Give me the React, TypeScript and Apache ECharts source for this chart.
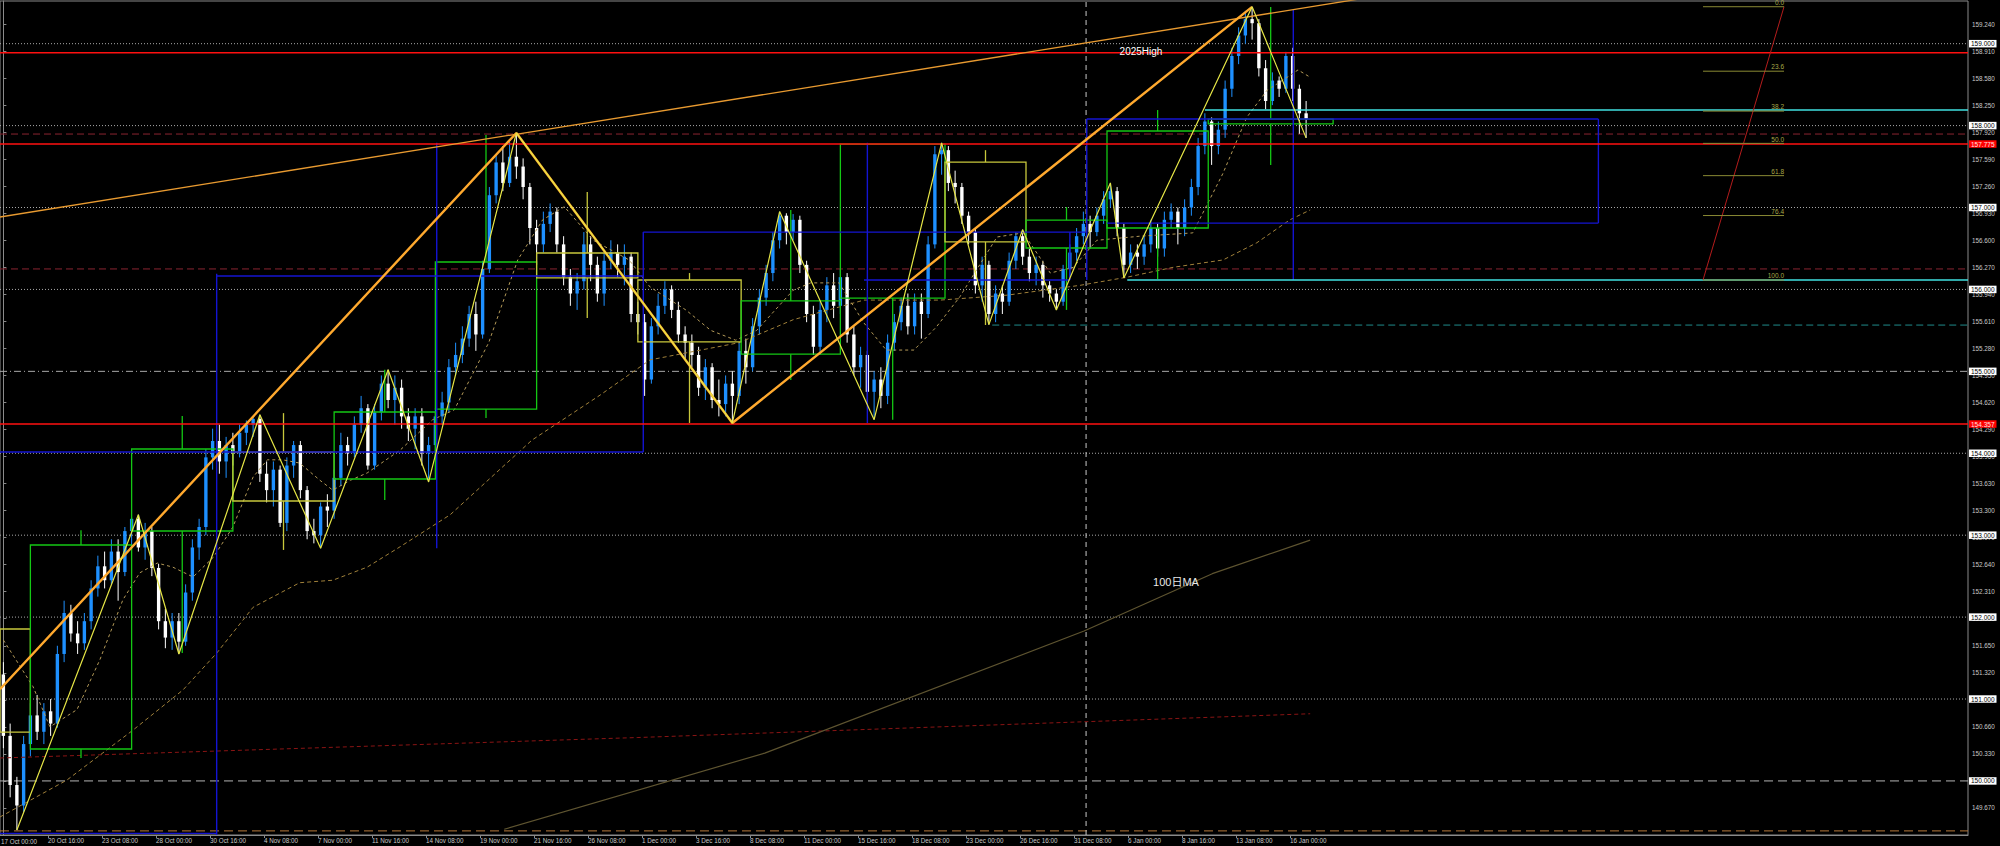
import React, { useEffect, useRef } from "react";
import * as echarts from "echarts";

// ---------- DATA (8-hour candles) ----------
// [open, close, low, high]
const candles: number[][] = [
  [151.30,150.55,150.40,151.45],[150.55,149.95,149.80,150.70],[149.95,149.70,149.40,150.05],[149.70,150.45,149.62,150.55],
  [150.45,150.80,150.30,150.95],[150.80,150.60,150.50,151.05],[150.60,150.85,150.45,150.95],[150.85,150.70,150.55,151.00],
  [150.70,151.55,150.65,151.65],[151.55,152.05,151.45,152.20],[152.05,151.80,151.70,152.15],[151.80,151.68,151.55,151.95],
  [151.68,151.95,151.60,152.05],[151.95,152.35,151.85,152.45],[152.35,152.62,152.25,152.75],[152.62,152.45,152.35,152.80],
  [152.45,152.80,152.40,152.95],[152.80,152.55,152.20,152.95],[152.55,153.05,152.50,153.10],[153.05,153.20,152.85,153.22],
  [153.20,152.85,152.80,153.25],[152.85,153.05,152.70,153.15],[153.05,152.60,152.50,153.10],[152.60,151.95,151.85,152.65],
  [151.95,151.75,151.62,152.10],[151.75,151.95,151.60,152.05],[151.95,151.70,151.55,152.05],[151.70,152.30,151.65,152.40],
  [152.30,152.85,152.20,152.95],[152.85,153.10,152.70,153.20],[153.10,153.95,153.00,154.05],[153.95,154.15,153.80,154.30],
  [154.15,153.90,153.75,154.35],[153.90,154.10,153.70,154.20],[154.10,154.00,153.85,154.25],[154.00,154.25,153.95,154.35],
  [154.25,154.35,154.10,154.40],[154.35,154.42,154.20,154.44],[154.42,153.75,153.65,154.47],[153.75,153.55,153.40,153.90],
  [153.55,153.80,153.35,153.90],[153.80,153.15,153.10,153.85],[153.15,153.85,153.05,153.95],[153.85,154.10,153.70,154.15],
  [154.10,153.55,153.45,154.15],[153.55,153.05,152.95,153.60],[153.05,153.00,152.90,153.20],[153.00,153.35,152.84,153.40],
  [153.35,153.30,153.10,153.50],[153.30,153.70,153.20,153.80],[153.70,154.10,153.60,154.25],[154.10,154.00,153.85,154.20],
  [154.00,154.35,153.95,154.45],[154.35,154.55,154.25,154.70],[154.55,153.85,153.80,154.60],[153.85,154.50,153.80,154.60],
  [154.50,154.85,154.40,154.95],[154.85,154.65,154.55,155.02],[154.65,154.80,154.35,154.95],[154.80,154.45,154.30,154.90],
  [154.45,154.30,154.15,154.55],[154.30,154.45,154.05,154.55],[154.45,154.00,153.85,154.55],[154.00,154.10,153.65,154.20],
  [154.10,154.45,153.95,154.55],[154.45,154.62,154.35,154.75],[154.62,155.05,154.50,155.15],[155.05,155.20,154.95,155.35],
  [155.20,155.40,155.10,155.55],[155.40,155.70,155.30,155.80],[155.70,155.45,155.25,155.85],[155.45,156.25,155.40,156.35],
  [156.25,157.15,156.20,157.25],[157.15,157.55,157.05,157.65],[157.55,157.30,157.20,157.75],[157.30,157.62,157.25,157.80],
  [157.62,157.50,157.35,157.91],[157.50,157.25,157.10,157.60],[157.25,156.75,156.55,157.30],[156.75,156.55,156.30,156.85],
  [156.55,156.80,156.45,156.95],[156.80,156.95,156.70,157.05],[156.95,156.55,156.45,157.00],[156.55,156.15,156.05,156.65],
  [156.15,155.95,155.80,156.25],[155.95,156.10,155.75,156.20],[156.10,156.55,156.00,156.70],[156.55,156.30,156.10,156.65],
  [156.30,155.95,155.85,156.40],[155.95,156.35,155.80,156.45],[156.35,156.45,156.25,156.60],[156.45,156.30,156.15,156.55],
  [156.30,156.40,156.05,156.55],[156.40,155.70,155.60,156.45],[155.70,155.60,155.45,155.85],[155.60,154.90,154.70,155.70],
  [154.90,155.55,154.85,155.65],[155.55,155.80,155.45,155.95],[155.80,156.00,155.70,156.10],[156.00,155.75,155.65,156.05],
  [155.75,155.45,155.35,155.85],[155.45,155.35,155.15,155.55],[155.35,155.20,155.05,155.45],[155.20,154.80,154.70,155.30],
  [154.80,155.05,154.65,155.15],[155.05,154.65,154.55,155.10],[154.65,154.60,154.45,154.90],[154.60,154.85,154.45,154.95],
  [154.85,154.70,154.37,155.00],[154.70,155.25,154.60,155.35],[155.25,155.05,154.85,155.40],[155.05,155.55,155.00,155.65],
  [155.55,155.90,155.45,156.00],[155.90,156.20,155.80,156.30],[156.20,156.60,156.10,156.70],[156.60,156.90,156.50,156.95],
  [156.90,156.70,156.55,156.93],[156.70,156.85,156.60,156.92],[156.85,156.30,156.20,156.90],[156.30,155.70,155.60,156.35],
  [155.70,155.30,155.20,155.80],[155.30,155.75,155.20,155.85],[155.75,156.05,155.60,156.15],[156.05,155.80,155.65,156.20],
  [155.80,156.15,155.70,156.25],[156.15,155.45,155.35,156.20],[155.45,155.05,154.95,155.55],[155.05,155.20,154.80,155.30],
  [155.20,154.75,154.60,155.25],[154.75,154.90,154.41,155.00],[154.90,154.70,154.55,155.05],[154.70,155.35,154.60,155.45],
  [155.35,155.60,155.25,155.70],[155.60,155.80,155.50,155.90],[155.80,155.55,155.45,155.95],[155.55,155.85,155.45,155.95],
  [155.85,155.70,155.40,155.95],[155.70,156.55,155.65,156.65],[156.55,157.65,156.50,157.75],[157.65,157.70,157.40,157.79],
  [157.70,157.30,157.20,157.75],[157.30,157.25,157.05,157.45],[157.25,156.90,156.80,157.30],[156.90,156.70,156.55,156.95],
  [156.70,156.05,155.95,156.75],[156.05,156.30,155.85,156.40],[156.30,155.70,155.57,156.35],[155.70,155.95,155.60,156.05],
  [155.95,155.85,155.70,156.05],[155.85,156.35,155.80,156.45],[156.35,156.65,156.25,156.70],[156.65,156.40,156.30,156.73],
  [156.40,156.20,156.10,156.50],[156.20,156.30,156.05,156.40],[156.30,156.05,155.90,156.35],[156.05,155.95,155.85,156.10],
  [155.95,155.85,155.75,156.00],[155.85,156.25,155.80,156.30],[156.25,156.45,156.15,156.55],[156.45,156.65,156.35,156.75],
  [156.65,156.80,156.55,156.95],[156.80,156.70,156.50,156.90],[156.70,156.90,156.65,157.00],[156.90,157.10,156.80,157.20],
  [157.10,157.20,157.00,157.30],[157.20,156.75,156.65,157.25],[156.75,156.30,156.14,156.80],[156.30,156.45,156.20,156.55],
  [156.45,156.40,156.25,156.55],[156.40,156.55,156.30,156.65],[156.55,156.75,156.45,156.85],[156.75,156.50,156.40,156.80],
  [156.50,156.85,156.40,156.95],[156.85,156.95,156.75,157.05],[156.95,156.75,156.55,157.00],[156.75,157.00,156.65,157.10],
  [157.00,157.25,156.90,157.35],[157.25,157.75,157.15,157.85],[157.75,158.05,157.65,158.15],[158.05,157.75,157.52,158.10],
  [157.75,157.95,157.65,158.05],[157.95,158.45,157.85,158.55],[158.45,158.85,158.35,158.95],[158.85,159.10,158.75,159.20],
  [159.10,159.30,159.00,159.40],[159.30,159.25,159.05,159.45],[159.25,158.70,158.60,159.30],[158.70,158.30,158.20,158.80],
  [158.30,158.55,158.25,158.65],[158.55,158.45,158.35,158.60],[158.45,158.85,158.40,158.90],[158.85,158.45,158.30,158.95],
  [158.45,158.15,157.90,158.50],[158.15,158.08,157.85,158.30],
];

// x-axis tick labels (one per 16 H4 bars = 8 of these 8-hour bars)
const xTickLabels = [
  "17 Oct 00:00","20 Oct 16:00","23 Oct 08:00","28 Oct 00:00","30 Oct 16:00","4 Nov 08:00","7 Nov 00:00",
  "11 Nov 16:00","14 Nov 08:00","19 Nov 00:00","21 Nov 16:00","26 Nov 08:00","1 Dec 00:00","3 Dec 16:00",
  "8 Dec 08:00","11 Dec 00:00","15 Dec 16:00","18 Dec 08:00","23 Dec 00:00","26 Dec 16:00","31 Dec 08:00",
  "6 Jan 00:00","8 Jan 16:00","13 Jan 08:00","16 Jan 00:00",
];
const BARS_PER_LABEL = 8;
const FIRST_LABEL_BAR = -1.39;

// y-axis tick labels
const yTickValues = [
  149.67,150.0,150.33,150.66,150.99,151.32,151.65,151.98,152.31,152.64,152.97,153.3,153.63,153.96,154.29,
  154.62,154.95,155.28,155.61,155.94,156.27,156.6,156.93,157.26,157.59,157.92,158.25,158.58,158.91,159.24,
];

// Moving averages: [bar, price]
const shortMA = [
  [0,151.72],[4.4,151.15],[6.9,150.66],[10.9,150.87],[14.3,151.48],[17.7,152.21],[20.2,152.54],[22.8,152.66],
  [25.1,152.61],[28.1,152.49],[31.1,152.73],[34.0,153.10],[37.0,153.71],[39.1,153.92],[41.4,153.92],[43.9,153.88],
  [46.9,153.67],[48.8,153.55],[51.4,153.67],[53.9,153.76],[58.8,154.04],[63.6,154.41],[66.8,154.53],[71.9,155.35],
  [76.2,156.36],[79.9,156.85],[83.1,157.01],[87.4,156.60],[92.7,156.36],[95.8,156.03],[101.1,155.75],[104.8,155.50],
  [108.5,155.38],[111.6,155.50],[117.0,155.99],[119.6,156.08],[123.8,156.08],[127.5,155.59],[130.8,155.26],
  [134.9,155.26],[138.2,155.54],[141.7,155.91],[147.2,156.64],[151.1,156.69],[155.1,156.20],[158.5,156.27],
  [162.0,156.60],[168.4,156.65],[176.2,156.69],[180.7,157.42],[184.2,158.10],[187.2,158.43],[190.2,158.59],
  [191.8,158.68],[193.6,158.59],
];
const longMA = [
  [-0.5,149.56],[9.4,150.01],[19.2,150.62],[26.6,151.11],[31.6,151.56],[37.0,152.12],[43.9,152.42],[48.8,152.45],
  [53.9,152.61],[58.8,152.86],[66.2,153.25],[78.3,154.16],[88.4,154.71],[95.8,155.14],[109.0,155.35],[117.0,155.63],
  [127.5,155.87],[138.8,155.87],[148.7,155.93],[159.5,156.05],[166.5,156.15],[173.3,156.27],[180.7,156.36],
  [185.7,156.57],[190.6,156.85],[193.6,156.97],
];
const ma100 = [[74.2,149.41],[112.8,150.34],[160.1,151.83],[179.1,152.53],[193.6,152.94]];
const ma200 = [[-0.5,150.28],[94,150.53],[193.6,150.82]];

// ZigZags and trendline: [bar, price]
const zigzagThin = [
  [2,149.40],[20,153.25],[26,151.55],[38,154.47],[47,152.84],[57,155.02],[63,153.65],[76,157.91],[108,154.37],
  [115,156.95],[129,154.41],[139,157.79],[146,155.57],[151,156.73],[156,155.75],[164,157.30],[166,156.14],
  [185,159.45],[193,157.85],
];
const zigzagMajor = [[-0.5,151.12],[76,157.91],[108,154.37],[185,159.45]];
const trendLine = [[-0.5,156.884],[205,159.60]];

// Weekly candle boxes: [startBar, endBar, open, close, high, low]
const weeklyBoxes = [
  [-0.5,4,151.855,150.597,151.855,150.597],
  [4,19,150.39,152.88,153.06,150.28],
  [19,34,153.051,154.052,154.455,151.562],
  [34,49,154.015,153.417,154.49,152.82],
  [49,64,153.686,154.504,155.02,153.43],
  [64,79,154.54,156.335,157.885,154.43],
  [79,94,156.445,156.14,157.19,155.65],
  [94,109.3,156.115,155.36,156.2,154.37],
  [109.3,124,155.21,155.86,156.97,154.895],
  [124,139.5,155.895,157.775,157.775,154.41],
  [139.5,151.5,157.555,156.58,157.70,155.566],
  [151.5,163.5,156.506,156.847,157.006,155.75],
  [163.5,178.5,156.75,157.934,158.19,156.127],
  [178.5,197,158.02,158.08,159.447,157.52],
];

// Range lines (blue): [bar1, price1, bar2, price2]
const blueSegments = [
  [-0.5,154.016,94.8,154.016],[31.6,156.19,31.6,149.34],[31.6,156.164,94.8,156.164],[64.2,157.79,64.2,152.84],
  [94.8,156.70,94.8,154.016],[94.8,156.70,160.5,156.70],[128.0,157.79,128.0,154.37],[160.5,158.08,160.5,156.115],
  [160.5,158.08,236.3,158.08],[163.5,156.81,236.3,156.81],[236.3,158.08,236.3,156.81],[191.1,159.41,191.1,156.115],
  [127.5,156.115,158.0,156.115],[158.0,156.70,158.0,156.115],[-0.5,149.36,31.6,149.36],
];

// Horizontal levels
const cyanLevels = [[178.0,158.19],[166.5,156.115]]; // [startBar, price]
const tealDashedLevels = [[146.5,155.565]];
const maroonDashedLevels = [157.897,156.25];
const redLevels = [158.89,157.775,154.357];
const redTagLevels = [157.775,154.357];
const bottomDashedLevel = [149.39];
const dottedLevels = [151,152,153,154,156,157,158,159];
const dashDotLevels = [155];
const dashedLevels = [150];
const integerTags = [150,151,152,153,154,155,156,157,158,159];
const separatorBars = [160.4];

// Fibonacci retracement
const fibNames = ["0.0","23.6","38.2","50.0","61.8","76.4","100.0"];
const fibPrices = [159.451,158.664,158.177,157.783,157.389,156.902,156.115];
const fibSpan = [251.8,263.8];

const noteTexts = ["2025High","100日MA"];

// ---------- LAYOUT / STYLE ----------
const X_MIN = -0.5;
const X_MAX = 291.056;
const Y_MIN = 149.34;
const Y_MAX = 159.521;
const FONT = "'Liberation Sans', 'DejaVu Sans', 'Noto Sans CJK JP', sans-serif";
const BULL = "#1E90FF";
const BEAR = "#FFFFFF";

function segSeries(name: string, rows: number[][], color: string, width: number, dash: number[] | null, z: number) {
  return {
    type: "custom",
    name,
    z,
    silent: true,
    clip: true,
    data: rows,
    encode: { x: [0, 2], y: [1, 3] },
    renderItem: (_p: any, api: any) => {
      const a = api.coord([api.value(0), api.value(1)]);
      const b = api.coord([api.value(2), api.value(3)]);
      return {
        type: "line",
        shape: { x1: a[0], y1: a[1], x2: b[0], y2: b[1] },
        style: { stroke: color, lineWidth: width, lineDash: dash || undefined, fill: null },
      };
    },
  };
}

function hLevels(prices: number[]) {
  return prices.map((p) => [X_MIN, p, X_MAX, p]);
}

function lineSeries(name: string, data: number[][], color: string, width: number, type: any, z: number) {
  return {
    type: "line",
    name,
    data,
    z,
    silent: true,
    symbol: "none",
    showSymbol: false,
    clip: true,
    lineStyle: { color, width, type },
    animation: false,
  };
}

function tagSeries(name: string, prices: number[], texts: string[], bg: string, fg: string) {
  return {
    type: "custom",
    name,
    z: 20,
    silent: true,
    clip: false,
    data: prices.map((p) => [X_MAX, p]),
    encode: { x: 0, y: 1 },
    renderItem: (params: any, api: any) => {
      const pt = api.coord([api.value(0), api.value(1)]);
      return {
        type: "text",
        x: pt[0] + 1,
        y: pt[1],
        style: {
          text: texts[params.dataIndex],
          fill: fg,
          backgroundColor: bg,
          padding: [1, 2, 0, 2],
          fontSize: 6.5,
          fontFamily: FONT,
          align: "left",
          verticalAlign: "middle",
        },
      };
    },
  };
}

function buildOption() {
  const candleData = candles.map((c, i) => [i, c[0], c[1], c[2], c[3]]);
  const xTickPositions = xTickLabels.map((_, k) => k * BARS_PER_LABEL + FIRST_LABEL_BAR).filter((v) => v > X_MIN);

  const series: any[] = [];

  // candles
  series.push({
    type: "custom",
    name: "USDJPY,H4",
    z: 2,
    silent: true,
    clip: true,
    data: candleData,
    encode: { x: 0, y: [1, 2, 3, 4] },
    renderItem: (_p: any, api: any) => {
      const x = api.value(0);
      const o = api.value(1);
      const c = api.value(2);
      const l = api.value(3);
      const h = api.value(4);
      const pO = api.coord([x, o]);
      const pC = api.coord([x, c]);
      const pL = api.coord([x, l]);
      const pH = api.coord([x, h]);
      const w = api.size([1, 0])[0] * 0.5;
      const color = c >= o ? BULL : BEAR;
      const top = Math.min(pO[1], pC[1]);
      const ht = Math.max(Math.abs(pO[1] - pC[1]), 1);
      return {
        type: "group",
        children: [
          { type: "line", shape: { x1: pH[0], y1: pH[1], x2: pL[0], y2: pL[1] }, style: { stroke: color, lineWidth: 1 } },
          { type: "rect", shape: { x: pO[0] - w / 2, y: top, width: w, height: ht }, style: { fill: color } },
        ],
      };
    },
  });

  // weekly boxes
  series.push({
    type: "custom",
    name: "weekly",
    z: 4,
    silent: true,
    clip: true,
    data: weeklyBoxes,
    encode: { x: [0, 1], y: [2, 3, 4, 5] },
    renderItem: (_p: any, api: any) => {
      const x1 = api.value(0);
      const x2 = api.value(1);
      const o = api.value(2);
      const c = api.value(3);
      const h = api.value(4);
      const l = api.value(5);
      const color = c >= o ? "#14C814" : "#C8C83C";
      const hi = Math.max(o, c);
      const lo = Math.min(o, c);
      const tl = api.coord([x1, hi]);
      const br = api.coord([x2, lo]);
      const mx = (x1 + x2) / 2;
      const pH = api.coord([mx, h]);
      const pT = api.coord([mx, hi]);
      const pB = api.coord([mx, lo]);
      const pL = api.coord([mx, l]);
      return {
        type: "group",
        children: [
          { type: "rect", shape: { x: tl[0], y: tl[1], width: br[0] - tl[0], height: Math.max(br[1] - tl[1], 1) }, style: { fill: null, stroke: color, lineWidth: 1.3 } },
          { type: "line", shape: { x1: pH[0], y1: pH[1], x2: pT[0], y2: pT[1] }, style: { stroke: color, lineWidth: 1.3 } },
          { type: "line", shape: { x1: pB[0], y1: pB[1], x2: pL[0], y2: pL[1] }, style: { stroke: color, lineWidth: 1.3 } },
        ],
      };
    },
  });

  // horizontal levels
  series.push(segSeries("dotted", hLevels(dottedLevels), "#a8a8a8", 1, [1, 2], 1));
  series.push(segSeries("dashdot", hLevels(dashDotLevels), "#a8a8a8", 1, [7, 3, 1, 3], 1));
  series.push(segSeries("dashed", hLevels(dashedLevels), "#b4b4b4", 1, [9, 5], 1));
  series.push(segSeries("bottomDashed", hLevels(bottomDashedLevel), "#b87a3c", 1, [9, 5], 1));
  series.push(segSeries("maroon", hLevels(maroonDashedLevels), "#8a2430", 1, [7, 4], 1));
  series.push(segSeries("teal", tealDashedLevels.map((r) => [r[0], r[1], X_MAX, r[1]]), "#1f8a8a", 1, [7, 4], 1));
  series.push(segSeries("red", hLevels(redLevels), "#ff1010", 1.6, null, 6));
  series.push(segSeries("cyan", cyanLevels.map((r) => [r[0], r[1], X_MAX, r[1]]), "#40E0E0", 1.5, null, 6));
  series.push(segSeries("separator", separatorBars.map((b) => [b, Y_MIN, b, Y_MAX]), "#c8c8c8", 1, [5, 4], 3));
  series.push(segSeries("blue", blueSegments, "#1414d2", 1.4, null, 5));

  // moving averages
  series.push(lineSeries("MA200", ma200, "#8a1414", 1, [4, 3], 3));
  series.push(lineSeries("100日MA", ma100, "#5e5430", 1.2, "solid", 3));
  series.push(lineSeries("MA long", longMA, "#a0803a", 1, [4, 3], 3));
  series.push(lineSeries("MA short", shortMA, "#b49a58", 1, [3, 3], 3));

  // zigzags and trendline
  series.push(lineSeries("trend", trendLine, "#e89a30", 1.3, "solid", 7));
  series.push(lineSeries("zigzag major", zigzagMajor, "#ffa92e", 2.4, "solid", 7));
  series.push(lineSeries("zigzag", zigzagThin, "#e6e646", 1.2, "solid", 8));

  // fibonacci
  series.push(segSeries("fibDiag", [[fibSpan[0], fibPrices[fibPrices.length - 1], fibSpan[1], fibPrices[0]]], "#b41c1c", 1, null, 6));
  series.push({
    type: "custom",
    name: "fibo",
    z: 7,
    silent: true,
    clip: false,
    data: fibPrices.map((p) => [fibSpan[0], p, fibSpan[1]]),
    encode: { x: [0, 2], y: 1 },
    renderItem: (params: any, api: any) => {
      const a = api.coord([api.value(0), api.value(1)]);
      const b = api.coord([api.value(2), api.value(1)]);
      return {
        type: "group",
        children: [
          { type: "line", shape: { x1: a[0], y1: a[1], x2: b[0], y2: b[1] }, style: { stroke: "#8a8a34", lineWidth: 1 } },
          {
            type: "text",
            x: b[0],
            y: b[1] - 1,
            style: { text: fibNames[params.dataIndex], fill: "#a8a848", fontSize: 6.5, fontFamily: FONT, align: "right", verticalAlign: "bottom" },
          },
        ],
      };
    },
  });

  // axis tags
  series.push(tagSeries("intTags", integerTags, integerTags.map((v) => v.toFixed(3)), "#ffffff", "#000000"));
  series.push(tagSeries("redTags", redTagLevels, redTagLevels.map((v) => v.toFixed(3)), "#ff0000", "#ffe0e0"));

  return {
    animation: false,
    backgroundColor: "#000000",
    grid: {
      left: 0,
      right: 32,
      top: 1,
      bottom: 11,
      show: true,
      backgroundColor: "#000000",
      borderColor: "#8a8a8a",
      borderWidth: 1,
      containLabel: false,
      outerBoundsMode: "none",
    },
    xAxis: {
      type: "value",
      min: X_MIN,
      max: X_MAX,
      axisLine: { show: true, lineStyle: { color: "#8a8a8a" } },
      axisTick: { show: true, customValues: xTickPositions, length: 3, lineStyle: { color: "#8a8a8a" } },
      axisLabel: {
        show: true,
        customValues: xTickPositions,
        formatter: (v: number) => xTickLabels[Math.round((v - FIRST_LABEL_BAR) / BARS_PER_LABEL)] || "",
        color: "#c8c8c8",
        fontSize: 6.3,
        fontFamily: FONT,
        align: "left",
        margin: 2,
        hideOverlap: false,
      },
      splitLine: { show: false },
    },
    yAxis: {
      type: "value",
      position: "right",
      min: Y_MIN,
      max: Y_MAX,
      scale: true,
      axisLine: { show: true, lineStyle: { color: "#8a8a8a" } },
      axisTick: { show: true, customValues: yTickValues, length: 3, inside: false, lineStyle: { color: "#8a8a8a" } },
      axisLabel: {
        show: true,
        customValues: yTickValues,
        formatter: (v: number) => v.toFixed(3),
        color: "#c8c8c8",
        fontSize: 6.3,
        fontFamily: FONT,
        margin: 4,
      },
      splitLine: { show: false },
    },
    graphic: [
      {
        type: "text",
        x: 1141,
        y: 51,
        z: 30,
        silent: true,
        style: { text: noteTexts[0], fill: "#ffffff", fontSize: 10, fontFamily: FONT, align: "center", verticalAlign: "middle" },
      },
      {
        type: "text",
        x: 1176,
        y: 582,
        z: 30,
        silent: true,
        style: { text: noteTexts[1], fill: "#e8e8e8", fontSize: 11, fontFamily: FONT, align: "center", verticalAlign: "middle" },
      },
      {
        type: "text",
        x: 1,
        y: 838,
        z: 30,
        silent: true,
        style: { text: xTickLabels[0], fill: "#c8c8c8", fontSize: 6.3, fontFamily: FONT, align: "left", verticalAlign: "top" },
      },
    ],
    series,
  };
}

export default function App() {
  const ref = useRef<HTMLDivElement>(null);
  useEffect(() => {
    document.body.style.margin = "0";
    document.body.style.background = "#000";
    document.body.style.overflow = "hidden";
    if (!ref.current) return;
    const chart = echarts.init(ref.current, null, { renderer: "svg" });
    chart.setOption(buildOption() as any);
    return () => chart.dispose();
  }, []);
  return <div ref={ref} style={{ width: 2000, height: 846, background: "#000" }} />;
}
